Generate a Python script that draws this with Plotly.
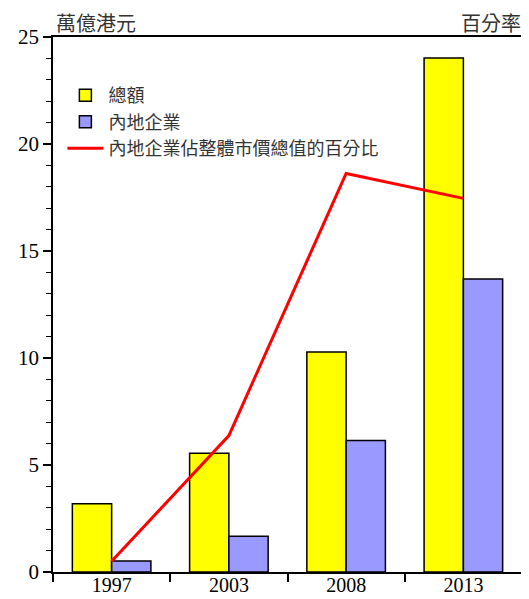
import plotly.graph_objects as go
from plotly.subplots import make_subplots

years = ["1997", "2003", "2008", "2013"]
total = [3.19, 5.55, 10.28, 24.02]
mainland = [0.51, 1.67, 6.14, 13.69]
share_pct = [21.2, 35.3, 64.7, 61.9]

fig = make_subplots(specs=[[{"secondary_y": True}]])

fig.add_trace(go.Bar(x=years, y=total, name="總額", legendgroup="a",
                     marker=dict(color="#ffff00", line=dict(color="black", width=1.5))),
              secondary_y=False)
fig.add_trace(go.Bar(x=years, y=mainland, name="內地企業", legendgroup="b",
                     marker=dict(color="#9999ff", line=dict(color="black", width=1.5))),
              secondary_y=False)
fig.add_trace(go.Scatter(x=years, y=share_pct, name="內地企業佔整體市價總值的百分比",
                         legendgroup="c",
                         mode="lines", line=dict(color="#ff0000", width=3)),
              secondary_y=True)

tickfont = dict(family="Liberation Serif", size=21, color="black")

# page body adds an 8px offset; size the figure so the plot area lands like the reference
fig.update_layout(
    width=521, height=591,
    margin=dict(l=45, r=7, t=29, b=27, autoexpand=False),
    paper_bgcolor="white", plot_bgcolor="white",
    barmode="group", bargap=0.33, bargroupgap=0,
    showlegend=True,
    legend=dict(x=0.02, y=0.925, xanchor="left", yanchor="top",
                bgcolor="rgba(0,0,0,0)", traceorder="normal",
                font=dict(family="Noto Sans CJK TC", size=18, color="#333333"),
                tracegroupgap=5, itemwidth=36),
    annotations=[
        dict(text="萬億港元", xref="paper", yref="paper", x=0.005, y=1.0,
             xanchor="left", yanchor="bottom", showarrow=False, yshift=-1,
             borderpad=0,
             font=dict(family="Noto Sans CJK TC", size=20, color="#333333")),
        dict(text="百分率", xref="paper", yref="paper", x=1.0, y=1.0,
             xanchor="right", yanchor="bottom", showarrow=False, yshift=-1,
             borderpad=0,
             font=dict(family="Noto Sans CJK TC", size=20, color="#333333")),
    ],
)

fig.update_xaxes(type="category", range=[-0.5, 3.5], tickson="boundaries", domain=[0, 1],
                 ticks="outside", ticklen=8, tickwidth=1.5, tickcolor="black",
                 showline=True, linecolor="black", linewidth=1.5, mirror=True,
                 showgrid=False, tickfont=dict(family="Liberation Serif", size=20, color="black"),
                 automargin=False, ticklabelstandoff=-6)
fig.update_yaxes(range=[0, 25], dtick=5, ticks="outside", ticklen=8, tickwidth=1.5,
                 tickcolor="black", showline=True, linecolor="black", linewidth=1.5,
                 showgrid=False, zeroline=False, tickfont=tickfont, automargin=False,
                 minor=dict(dtick=1, ticks="outside", ticklen=5, tickwidth=1, tickcolor="black"),
                 secondary_y=False)
fig.update_yaxes(range=[20, 80], dtick=5, ticks="outside", ticklen=7, tickwidth=1.5,
                 tickcolor="black", showline=True, linecolor="black", linewidth=1.5,
                 showgrid=False, zeroline=False, showticklabels=False, automargin=False,
                 minor=dict(dtick=1, ticks="outside", ticklen=5, tickwidth=1, tickcolor="black"),
                 secondary_y=True)

fig.write_html("out.html")
